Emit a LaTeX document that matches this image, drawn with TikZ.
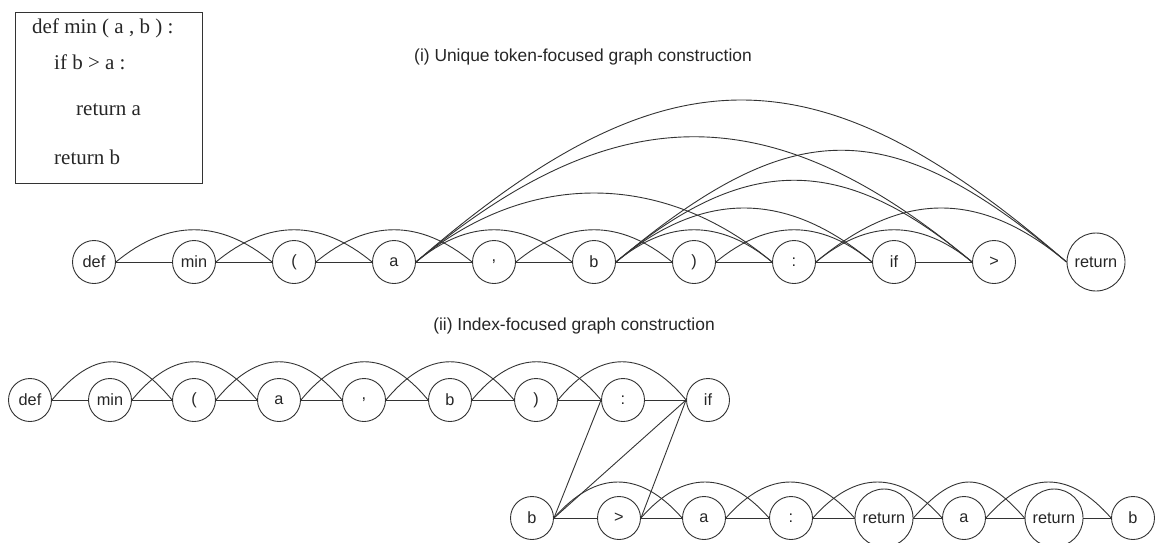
\documentclass[tikz,border=0pt]{standalone}
\usepackage{fontspec}
\setmainfont{Liberation Sans}
\newfontfamily\codefont{Liberation Serif}
\begin{document}
\begin{tikzpicture}[x=1pt,y=-1pt,
  tok/.style={circle,draw=black!80,line width=0.9pt,minimum size=43pt,inner sep=0pt,text=black!85,font=\fontsize{16.3}{18}\selectfont},
  tokbig/.style={tok,minimum size=58pt},
  edge/.style={draw=black!80,line width=0.9pt},
  title/.style={text=black!85,font=\fontsize{17.4}{19}\selectfont},
  codeline/.style={anchor=west,text=black!85,inner sep=0pt,font=\codefont\fontsize{21}{23}\selectfont},
]
\useasboundingbox (0,0) rectangle (1159,542);

% code box
\node[draw=black!80,line width=0.9pt,minimum width=187pt,minimum height=171pt,inner sep=0pt] (code) at (108.5,97.5) {};
\node[codeline] (c1) at (32,28) {def min ( a , b ) :};
\node[codeline] (c2) at (54,62) {if b > a :};
\node[codeline] (c3) at (76,110) {return a};
\node[codeline] (c4) at (54,157) {return b};

% titles
\node[title] (t1) at (583,57) {(i) Unique token-focused graph construction};
\node[title] (t2) at (574,326) {(ii) Index-focused graph construction};

% (i) unique token graph
\node[tok] (u0) at (94,262) {def};
\node[tok] (u1) at (194,262) {min};
\node[tok] (u2) at (294,262) {(};
\node[tok] (u3) at (394,262) {a};
\node[tok] (u4) at (494,262) {,};
\node[tok] (u5) at (594,262) {b};
\node[tok] (u6) at (694,262) {)};
\node[tok] (u7) at (794,262) {:};
\node[tok] (u8) at (894,262) {if};
\node[tok] (u9) at (994,262) {>};
\node[tokbig] (u10) at (1096,262) {return};

\foreach \a/\b in {u0/u1,u1/u2,u2/u3,u3/u4,u4/u5,u5/u6,u6/u7,u7/u8,u8/u9}
  \draw[edge] (\a.east) -- (\b.west);
\foreach \a/\b in {u0/u2,u1/u3,u2/u4,u3/u5,u4/u6,u5/u7,u6/u8,u7/u9}
  \draw[edge] (\a.east) .. controls +(52,-43) and +(-52,-43) .. (\b.west);

\draw[edge] (u3.east) .. controls +(110,-92) and +(-110,-92) .. (u7.west);
\draw[edge] (u3.east) .. controls +(200,-167) and +(-200,-167) .. (u9.west);
\draw[edge] (u3.east) .. controls +(250,-216) and +(-250,-216) .. (u10.west);
\draw[edge] (u5.east) .. controls +(86,-72) and +(-86,-72) .. (u8.west);
\draw[edge] (u5.east) .. controls +(130,-109) and +(-130,-109) .. (u9.west);
\draw[edge] (u5.east) .. controls +(178,-149) and +(-178,-149) .. (u10.west);
\draw[edge] (u7.east) .. controls +(86,-72) and +(-86,-72) .. (u10.west);

% (ii) index graph, row 1
\node[tok] (v0) at (30,400) {def};
\node[tok] (v1) at (110,400) {min};
\node[tok] (v2) at (194,400) {(};
\node[tok] (v3) at (279,400) {a};
\node[tok] (v4) at (364,400) {,};
\node[tok] (v5) at (450,400) {b};
\node[tok] (v6) at (536,400) {)};
\node[tok] (v7) at (623,400) {:};
\node[tok] (v8) at (708,400) {if};
% row 2
\node[tok] (w0) at (532,518) {b};
\node[tok] (w1) at (619,518) {>};
\node[tok] (w2) at (704,518) {a};
\node[tok] (w3) at (791,518) {:};
\node[tokbig] (w4) at (884,518) {return};
\node[tok] (w5) at (964,518) {a};
\node[tokbig] (w6) at (1054,518) {return};
\node[tok] (w7) at (1133,518) {b};

\foreach \a/\b in {v0/v1,v1/v2,v2/v3,v3/v4,v4/v5,v5/v6,v6/v7,v7/v8,w0/w1,w1/w2,w2/w3,w3/w4,w4/w5,w5/w6,w6/w7}
  \draw[edge] (\a.east) -- (\b.west);
\foreach \a/\b in {v0/v2,v1/v3,v2/v4,v3/v5,v4/v6,v5/v7,v6/v8}
  \draw[edge] (\a.east) .. controls +(42,-51) and +(-42,-51) .. (\b.west);
\foreach \a/\b in {w0/w2,w1/w3,w2/w4,w3/w5,w4/w6,w5/w7}
  \draw[edge] (\a.east) .. controls +(42,-48) and +(-42,-48) .. (\b.west);

\draw[edge] (v7.west) -- (w0.east);
\draw[edge] (v8.west) -- (w0.east);
\draw[edge] (v8.west) -- (w1.east);
\end{tikzpicture}
\end{document}
